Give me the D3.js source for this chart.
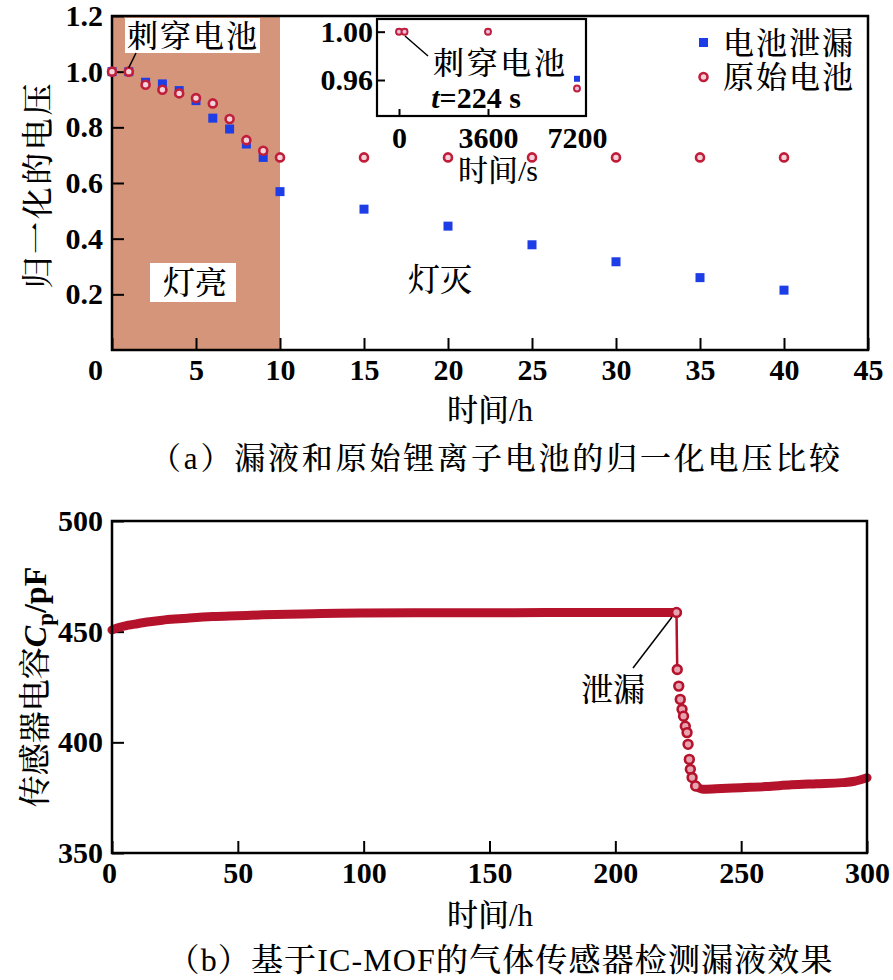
<!DOCTYPE html>
<html><head><meta charset="utf-8">
<script src="https://cdn.jsdelivr.net/npm/d3@7"></script>
<style>
body{margin:0;background:#fff;}
svg{display:block;}
text{font-family:"Liberation Serif","Times New Roman","Noto Serif CJK SC","Noto Sans CJK SC",serif;fill:#000;}
</style></head>
<body>
<svg id="c" width="893" height="980"></svg>
<script>
// ---------- data: panel (a) ----------
const hoursLeak = [0,1,2,3,4,5,6,7,8,9,10,15,20,25,30,35,40];
const voltLeak  = [1.0,1.0,0.962,0.956,0.932,0.896,0.833,0.794,0.740,0.692,0.569,0.506,0.445,0.378,0.317,0.260,0.215];
const hoursOrig = [0,1,2,3,4,5,6,7,8,9,10,15,20,25,30,35,40];
const voltOrig  = [1.0,1.0,0.953,0.935,0.922,0.905,0.886,0.830,0.754,0.716,0.692,0.692,0.692,0.692,0.692,0.692,0.692];
const xTicksA = [0,5,10,15,20,25,30,35,40,45];
const yTicksA = [0.2,0.4,0.6,0.8,1.0,1.2];
// inset
const insetSec   = [0,224,3600,7200];
const insetLeak  = [1.0,1.0,1.0,0.961];
const insetOrig  = [1.0,1.0,1.0,0.953];
const insetXTicks = [0,3600,7200];
const insetYTicks = [0.96,1.00];
const legendLabels = ["电池泄漏","原始电池"];
// ---------- data: panel (b) ----------
const capHours = [0,3,6,10,15,20,25,30,40,50,60,70,80,90,100,120,140,160,180,200,212,224.3,
  224.6,225.2,225.8,226.5,227.1,227.8,228.5,228.9,229.4,229.8,230.5,231.9,235,
  240,250,260,270,280,290,295,300];
const capPF = [450.8,452.0,452.8,453.6,454.5,455.2,455.7,456.1,456.8,457.2,457.6,457.9,458.1,458.3,458.4,458.5,458.6,458.6,458.7,458.7,458.7,458.7,
  432.9,425.4,419.4,414.9,411.8,407.3,404.4,399.1,392.3,387.8,384.1,380.3,378.8,
  379.0,379.5,380.0,380.8,381.3,381.8,382.4,384.0];
const xTicksB = [0,50,100,150,200,250,300];
const yTicksB = [350,400,450,500];

const svg = d3.select("#c");
const BLUE = "#1d3de6", RED = "#c01e3a", SHADE = "#d5957a", CAP = "#b5122c";
const CJK = '"Noto Sans CJK SC","Liberation Serif",serif';
const LAT = '"Liberation Serif","Times New Roman",serif';
function cjk(x, y, txt, size, len){
  const t = svg.append("text").attr("x",x).attr("y",y).attr("text-anchor","middle")
    .attr("font-size",size||31).attr("font-family",CJK).attr("font-weight",500).text(txt);
  if(len) t.attr("textLength",len).attr("lengthAdjust","spacing");
  return t;
}
function styleAxis(g){
  g.select(".domain").remove();
  g.selectAll("line").attr("stroke","#000").attr("stroke-width",2);
  g.selectAll("text").attr("font-size",30).attr("font-family",LAT).attr("font-weight","bold").attr("fill","#000");
}

// ================= panel (a) =================
const A = {l:112, r:868, t:16, b:350};
const xA = d3.scaleLinear().domain([0,45]).range([A.l, A.r]);
const yA = d3.scaleLinear().domain([0,1.2]).range([A.b, A.t]);

svg.append("rect").attr("x", xA(0)).attr("y", yA(1.2))
  .attr("width", xA(10)-xA(0)).attr("height", yA(0)-yA(1.2)).attr("fill", SHADE);

const gxA = svg.append("g").attr("transform",`translate(0,${A.b})`)
  .call(d3.axisBottom(xA).tickValues(xTicksA).tickSizeInner(-12).tickSizeOuter(0).tickPadding(9).tickFormat(d3.format("d")));
const gyA = svg.append("g").attr("transform",`translate(${A.l},0)`)
  .call(d3.axisLeft(yA).tickValues(yTicksA).tickSizeInner(-12).tickSizeOuter(0).tickPadding(9).tickFormat(d3.format(".1f")));
styleAxis(gxA); styleAxis(gyA);
gxA.selectAll(".tick").filter(d=>d===0).select("text").attr("x",-17);
svg.append("rect").attr("x",A.l).attr("y",A.t).attr("width",A.r-A.l).attr("height",A.b-A.t)
  .attr("fill","none").attr("stroke","#000").attr("stroke-width",2.5);

function squares(g, xs, ys, xS, yS, s){
  g.selectAll(null).data(xs).enter().append("rect")
    .attr("x",(d)=>xS(d)-s/2).attr("y",(d,i)=>yS(ys[i])-s/2).attr("width",s).attr("height",s).attr("fill",BLUE);
}
function rings(g, xs, ys, xS, yS, r, sw, fill){
  g.selectAll(null).data(xs).enter().append("circle")
    .attr("cx",d=>xS(d)).attr("cy",(d,i)=>yS(ys[i])).attr("r",r)
    .attr("fill",fill).attr("stroke",RED).attr("stroke-width",sw);
}
const mA = svg.append("g");
squares(mA, hoursLeak, voltLeak, xA, yA, 9);
rings(mA, hoursOrig, voltOrig, xA, yA, 4, 2.6, "#f3d3da");

// labels inside panel (a)
svg.append("rect").attr("x",125).attr("y",18).attr("width",135).attr("height",35).attr("fill","#fff");
cjk(192, 47, "刺穿电池", 31, 130);
svg.append("line").attr("x1",136).attr("y1",53).attr("x2",xA(1)).attr("y2",yA(1.0)-4).attr("stroke","#000").attr("stroke-width",1.5);
svg.append("rect").attr("x",150).attr("y",263).attr("width",86).attr("height",39).attr("fill","#fff");
cjk(195, 294, "灯亮", 32);
cjk(440, 291, "灯灭", 32);

// legend
svg.append("rect").attr("x",699).attr("y",38).attr("width",9).attr("height",9).attr("fill",BLUE);
svg.append("circle").attr("cx",703.5).attr("cy",77).attr("r",4).attr("fill","#f3d3da").attr("stroke",RED).attr("stroke-width",2.6);
cjk(788, 54, legendLabels[0], 31, 130);
cjk(788, 88, legendLabels[1], 31, 130);

// inset
const I = {l:377, r:586, t:19, b:116};
const xI = d3.scaleLinear().domain([-890,7564]).range([I.l, I.r]);
const yI = d3.scaleLinear().domain([0.9302,1.0105]).range([I.b, I.t]);
svg.append("rect").attr("x",I.l).attr("y",I.t).attr("width",I.r-I.l).attr("height",I.b-I.t).attr("fill","#fff");
const gxI = svg.append("g").attr("transform",`translate(0,${I.b})`)
  .call(d3.axisBottom(xI).tickValues(insetXTicks).tickSizeInner(-7).tickSizeOuter(0).tickPadding(11).tickFormat(d3.format("d")));
const gyI = svg.append("g").attr("transform",`translate(${I.l},0)`)
  .call(d3.axisLeft(yI).tickValues(insetYTicks).tickSizeInner(-8).tickSizeOuter(0).tickPadding(4).tickFormat(d3.format(".2f")));
styleAxis(gxI); styleAxis(gyI);
gxI.selectAll(".tick").filter(d=>d===7200).select("line").remove();
svg.append("rect").attr("x",I.l).attr("y",I.t).attr("width",I.r-I.l).attr("height",I.b-I.t)
  .attr("fill","none").attr("stroke","#000").attr("stroke-width",2.2);
const mI = svg.append("g");
squares(mI, insetSec, insetLeak, xI, yI, 6);
rings(mI, insetSec, insetOrig, xI, yI, 3, 1.9, "#e8c0e0");
svg.append("line").attr("x1",405).attr("y1",36).attr("x2",428).attr("y2",56).attr("stroke","#000").attr("stroke-width",1.5);
cjk(499, 74, "刺穿电池", 31, 132);
const tt = svg.append("text").attr("x",476).attr("y",108).attr("text-anchor","middle").attr("font-size",30)
  .attr("font-family",LAT).attr("font-weight","bold");
tt.append("tspan").attr("font-style","italic").text("t");
tt.append("tspan").text("=224 s");
cjk(498, 181, "时间/s", 30);

// axis titles (a)
svg.append("text").attr("transform","translate(49,186) rotate(-90)").attr("text-anchor","middle")
  .attr("font-size",32).attr("font-family",CJK).attr("font-weight",500)
  .attr("textLength",205).attr("lengthAdjust","spacing").text("归一化的电压");
cjk(490, 421, "时间/h", 31);
cjk(495, 469, "（a）漏液和原始锂离子电池的归一化电压比较", 31, 690);

// ================= panel (b) =================
const B = {l:112, r:867, t:521, b:853};
const xB = d3.scaleLinear().domain([0,300]).range([B.l, B.r]);
const yB = d3.scaleLinear().domain([350,500]).range([B.b, B.t]);
const gxB = svg.append("g").attr("transform",`translate(0,${B.b})`)
  .call(d3.axisBottom(xB).tickValues(xTicksB).tickSizeInner(-12).tickSizeOuter(0).tickPadding(9).tickFormat(d3.format("d")));
const gyB = svg.append("g").attr("transform",`translate(${B.l},0)`)
  .call(d3.axisLeft(yB).tickValues(yTicksB).tickSizeInner(-12).tickSizeOuter(0).tickPadding(9).tickFormat(d3.format("d")));
styleAxis(gxB); styleAxis(gyB);
gxB.selectAll(".tick").filter(d=>d===0).select("text").attr("x",-3);

const idxDrop0 = capHours.findIndex(h=>h>224.4);
const idxDrop1 = capHours.findIndex(h=>h>=235);
const pre  = capHours.slice(0, idxDrop0).map((h,i)=>[h, capPF[i]]);
const drop = capHours.slice(idxDrop0, idxDrop1).map((h,i)=>[h, capPF[idxDrop0+i]]);
const post = capHours.slice(idxDrop1-1).map((h,i)=>[h, capPF[idxDrop1-1+i]]);
const line = d3.line().x(d=>xB(d[0])).y(d=>yB(d[1])).curve(d3.curveMonotoneX);
const gB = svg.append("g");
gB.append("path").attr("d", d3.line().x(d=>xB(d[0])).y(d=>yB(d[1]))([pre[pre.length-1], drop[0]]))
  .attr("stroke",CAP).attr("stroke-width",2.5).attr("fill","none");
gB.append("path").attr("d", line(pre)).attr("stroke",CAP).attr("stroke-width",9).attr("fill","none").attr("stroke-linecap","round");
gB.append("path").attr("d", line(post)).attr("stroke",CAP).attr("stroke-width",9).attr("fill","none").attr("stroke-linecap","round");
gB.selectAll(null).data(drop.concat([pre[pre.length-1]])).enter().append("circle")
  .attr("cx",d=>xB(d[0])).attr("cy",d=>yB(d[1])).attr("r",4.4)
  .attr("fill","#e7a3b0").attr("stroke",CAP).attr("stroke-width",2.6);

svg.append("rect").attr("x",B.l).attr("y",B.t).attr("width",B.r-B.l).attr("height",B.b-B.t)
  .attr("fill","none").attr("stroke","#000").attr("stroke-width",2.5);

svg.append("line").attr("x1",633).attr("y1",668).attr("x2",672).attr("y2",617).attr("stroke","#000").attr("stroke-width",1.5);
cjk(613, 701, "泄漏", 32);

const yt = svg.append("text").attr("transform","translate(46,687) rotate(-90)").attr("text-anchor","middle")
  .attr("font-size",32).attr("font-family",CJK).attr("font-weight",500);
yt.append("tspan").text("传感器电容");
yt.append("tspan").attr("font-family",LAT).attr("font-style","italic").attr("font-weight","bold").text("C");
yt.append("tspan").attr("font-family",LAT).attr("font-weight","bold").attr("font-size",23).attr("dy",7).text("p");
yt.append("tspan").attr("font-family",LAT).attr("font-weight","bold").attr("dy",-7).text("/pF");
cjk(490, 926, "时间/h", 31);
cjk(500, 971, "（b）基于IC-MOF的气体传感器检测漏液效果", 32, 665);
</script>
</body></html>
